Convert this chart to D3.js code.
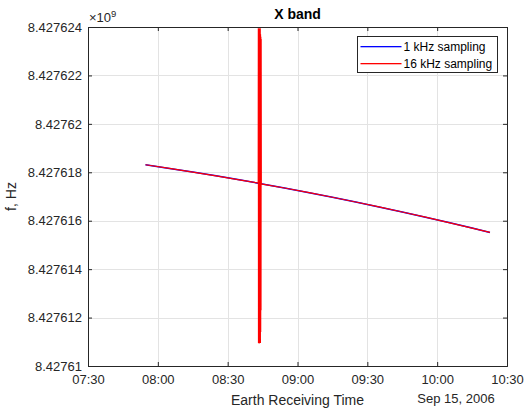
<!DOCTYPE html>
<html>
<head>
<meta charset="utf-8">
<script src="https://cdn.jsdelivr.net/npm/d3@7"></script>
<style>
  html, body { margin: 0; padding: 0; background: #fff; }
  svg { display: block; font-family: "Liberation Sans", Arial, Helvetica, sans-serif; }
</style>
</head>
<body>
<svg id="chart" width="525" height="412"></svg>
<script>
// ---- Data ----
const dateStr = "2006-09-15";
const xTickLabels = ["07:30", "08:00", "08:30", "09:00", "09:30", "10:00", "10:30"];
const yTickValues = [8427610000, 8427612000, 8427614000, 8427616000, 8427618000, 8427620000, 8427622000, 8427624000];
const yTickLabels = ["8.42761", "8.427612", "8.427614", "8.427616", "8.427618", "8.42762", "8.427622", "8.427624"];
const seriesNames = ["1 kHz sampling", "16 kHz sampling"];

// 1 kHz sampling series (smooth Doppler curve)
const times1k = ["07:54:42", "08:05:00", "08:15:00", "08:25:00", "08:35:00", "08:43:42", "08:55:00", "09:05:00",
                 "09:15:00", "09:25:00", "09:35:00", "09:45:00", "09:55:00", "10:05:00", "10:15:00", "10:22:42"];
const values1k = [8427618310, 8427618161, 8427618010, 8427617853, 8427617689, 8427617541, 8427617342, 8427617158,
                  8427616969, 8427616773, 8427616570, 8427616361, 8427616146, 8427615924, 8427615696, 8427615516];

// 16 kHz sampling series (same curve with a burst of outliers near 08:43-08:44)
const times16k = ["07:54:42", "08:05:00", "08:15:00", "08:25:00", "08:35:00", "08:43:08",
                  "08:43:11", "08:43:15", "08:43:19", "08:43:23", "08:43:27", "08:43:31", "08:43:35", "08:43:39",
                  "08:43:43", "08:43:47", "08:43:51", "08:43:55", "08:43:59", "08:44:03", "08:44:07", "08:44:11",
                  "08:44:15", "08:44:19", "08:44:23", "08:44:27",
                  "08:55:00", "09:05:00", "09:15:00", "09:25:00", "09:35:00", "09:45:00", "09:55:00", "10:05:00",
                  "10:15:00", "10:22:42"];
const values16k = [8427618310, 8427618161, 8427618010, 8427617853, 8427617689, 8427617555,
                   8427623950, 8427610950, 8427623900, 8427610980, 8427623950, 8427610930, 8427623850, 8427611000,
                   8427623920, 8427610950, 8427623900, 8427611100, 8427623950, 8427610950, 8427623700, 8427611400,
                   8427623600, 8427612300, 8427623500, 8427617520,
                   8427617342, 8427617158, 8427616969, 8427616773, 8427616570, 8427616361, 8427616146, 8427615924,
                   8427615696, 8427615516];

// ---- Layout ----
const W = 525, H = 412;
const margin = { left: 88, top: 27, right: 18, bottom: 46 };
const iw = W - margin.left - margin.right;   // 419
const ih = H - margin.top - margin.bottom;   // 339
const textColor = "#262626";

const parse = d3.utcParse("%Y-%m-%d %H:%M:%S");
const pt = s => parse(dateStr + " " + (s.length === 5 ? s + ":00" : s));

const x = d3.scaleUtc().domain([pt(xTickLabels[0]), pt(xTickLabels[xTickLabels.length - 1])]).range([0, iw]);
const y = d3.scaleLinear().domain([yTickValues[0], yTickValues[yTickValues.length - 1]]).range([ih, 0]);

const svg = d3.select("#chart");
svg.append("rect").attr("width", W).attr("height", H).attr("fill", "#fff");

svg.append("defs").append("clipPath").attr("id", "clip")
  .append("rect").attr("x", 0).attr("y", 0).attr("width", iw).attr("height", ih);

const g = svg.append("g").attr("transform", `translate(${margin.left},${margin.top})`);

const xTicks = xTickLabels.map(pt);

// Grid
g.append("g").attr("class", "grid")
  .selectAll("line.vx").data(xTicks).join("line")
  .attr("x1", d => Math.round(x(d)) + 0.5).attr("x2", d => Math.round(x(d)) + 0.5)
  .attr("y1", 0).attr("y2", ih).attr("stroke", "#e3e3e3").attr("stroke-width", 1);
g.append("g").attr("class", "grid")
  .selectAll("line.hy").data(yTickValues).join("line")
  .attr("y1", d => Math.round(y(d)) + 0.5).attr("y2", d => Math.round(y(d)) + 0.5)
  .attr("x1", 0).attr("x2", iw).attr("stroke", "#e3e3e3").attr("stroke-width", 1);

// Lines
const line = d3.line().x(d => x(d[0])).y(d => y(d[1]));
const data1k = times1k.map((t, i) => [pt(t), values1k[i]]);
const data16k = times16k.map((t, i) => [pt(t), values16k[i]]);
const lines = g.append("g").attr("clip-path", "url(#clip)");
lines.append("path").datum(data1k).attr("d", line)
  .attr("fill", "none").attr("stroke", "#0000ff").attr("stroke-width", 1.5);
lines.append("path").datum(data16k).attr("d", line)
  .attr("fill", "none").attr("stroke", "#ff0000").attr("stroke-width", 1.2).attr("stroke-linejoin", "miter");

// Axes
const fmtY = d => yTickLabels[yTickValues.indexOf(d)];
const fmtX = d => xTickLabels[xTicks.findIndex(t => +t === +d)];

const axB = g.append("g").attr("transform", `translate(0,${ih})`)
  .call(d3.axisBottom(x).tickValues(xTicks).tickFormat(fmtX).tickSize(-4).tickPadding(9));
const axL = g.append("g")
  .call(d3.axisLeft(y).tickValues(yTickValues).tickFormat(fmtY).tickSize(-4).tickPadding(6));
const axT = g.append("g")
  .call(d3.axisTop(x).tickValues(xTicks).tickFormat("").tickSize(-4));
const axR = g.append("g").attr("transform", `translate(${iw},0)`)
  .call(d3.axisRight(y).tickValues(yTickValues).tickFormat("").tickSize(-4));

[axB, axL, axT, axR].forEach(a => {
  a.selectAll("path.domain").attr("stroke", textColor).attr("stroke-width", 1);
  a.selectAll(".tick line").attr("stroke", textColor).attr("stroke-width", 1);
  a.selectAll("text").attr("fill", textColor).style("font-size", "13px")
    .style("font-family", '"Liberation Sans", Arial, Helvetica, sans-serif');
});
axB.selectAll("text").attr("dy", "0.71em");

// Exponent label
const ex = svg.append("text").attr("x", margin.left + 1).attr("y", 22)
  .attr("fill", textColor).style("font-size", "13px");
ex.append("tspan").text("×10");
ex.append("tspan").attr("dy", -5).style("font-size", "9.5px").text("9");

// Title
svg.append("text").attr("x", margin.left + iw / 2).attr("y", 19)
  .attr("text-anchor", "middle").attr("fill", "#000")
  .style("font-size", "14px").style("font-weight", "bold").text("X band");

// Axis labels
svg.append("text").attr("x", margin.left + iw / 2).attr("y", 405)
  .attr("text-anchor", "middle").attr("fill", textColor).style("font-size", "14px")
  .text("Earth Receiving Time");
svg.append("text").attr("x", 456).attr("y", 403)
  .attr("text-anchor", "middle").attr("fill", textColor).style("font-size", "13px")
  .text("Sep 15, 2006");
svg.append("text")
  .attr("transform", `translate(16,${margin.top + ih / 2}) rotate(-90)`)
  .attr("text-anchor", "middle").attr("fill", textColor).style("font-size", "14px")
  .text("f, Hz");

// Legend
const colors = ["#0000ff", "#ff0000"];
const lg = svg.append("g").attr("transform", "translate(357.5,36.5)");
lg.append("rect").attr("width", 140).attr("height", 36)
  .attr("fill", "#fff").attr("stroke", textColor).attr("stroke-width", 1);
seriesNames.forEach((name, i) => {
  const yy = 10 + i * 17;
  lg.append("rect").attr("x", 3).attr("y", yy - 0.5).attr("width", 41).attr("height", 1.3)
    .attr("fill", colors[i]);
  lg.append("text").attr("x", 46).attr("y", yy).attr("dy", "0.35em")
    .attr("fill", "#000").style("font-size", "12px").text(name);
});
</script>
</body>
</html>
